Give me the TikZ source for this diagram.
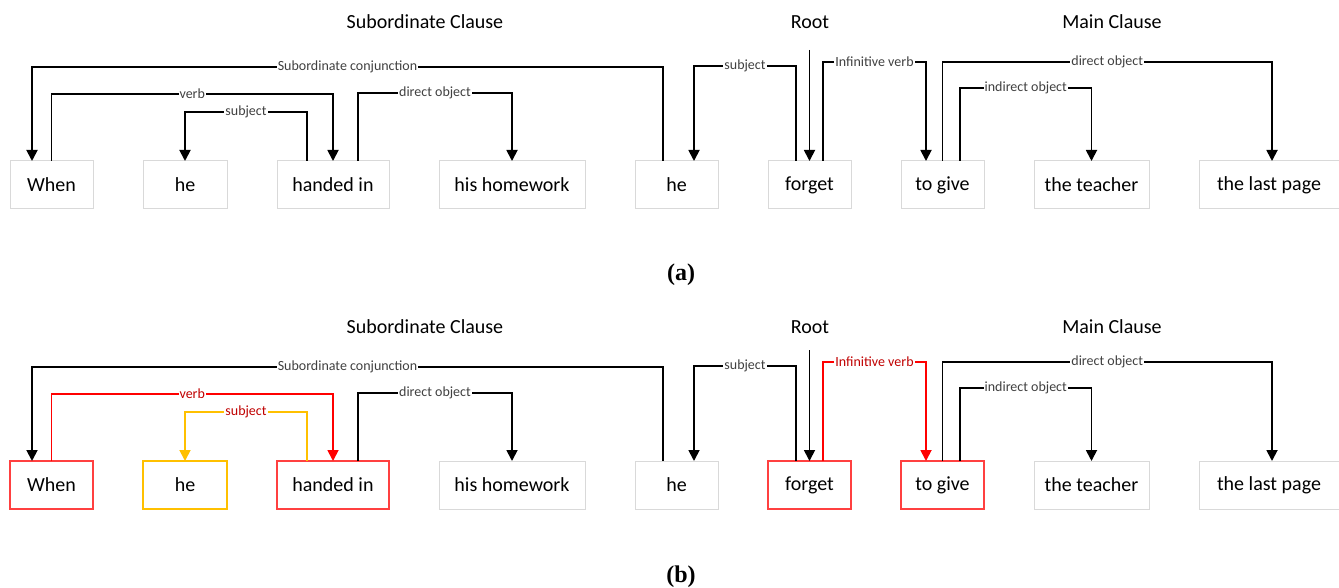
\documentclass[tikz,border=0pt]{standalone}
\usepackage{fontspec}
\setmainfont{Carlito}
\newfontfamily\capfont{Liberation Serif}
\usepackage{tikz}
\usetikzlibrary{arrows.meta,positioning}
\definecolor{boxgray}{HTML}{D9D9D9}
\definecolor{lblred}{HTML}{C00000}
\definecolor{arcyel}{HTML}{FFC000}
\definecolor{boxred}{HTML}{FF4040}

\begin{document}
\begin{tikzpicture}[x=1pt,y=-1pt,node distance=50pt,
	word/.style={draw=boxgray,line width=1pt,outer sep=0pt,minimum height=48pt,minimum width=83pt,inner sep=0pt,font=\fontsize{20}{24}\selectfont},
	redword/.style={word,draw=boxred,line width=1.3pt},
	yelword/.style={word,draw=arcyel,line width=1.3pt},
	dep/.style={line width=1.8pt,-{Triangle[width=11pt,length=11pt]}},
	lbl/.style={fill=white,inner xsep=1pt,inner ysep=0.5pt,text=black!75,font=\fontsize{14}{16}\selectfont},
	title/.style={font=\fontsize{20}{24}\selectfont},
	panel/.style={font=\capfont\bfseries\fontsize{24}{26}\selectfont}]
	\useasboundingbox (0,0) rectangle (1339,588);

	% (a)
	\node[title] (sub) at (425,22) {Subordinate Clause};
	\node[title] (rt) at (810,22) {Root};
	\node[title] (mc) at (1112,22) {Main Clause};
	\node[word] (when) at (51.5,185) {When};
	\node[word, right = of when, minimum width=84pt] (he) {he};
	\node[word, right = of he, minimum width=112pt] (hand) {handed in};
	\node[word, right = of hand, minimum width=146pt] (hw) {his homework};
	\node[word, right = of hw] (he2) {he};
	\node[word, right = of he2] (forget) {forget};
	\node[word, right = of forget] (give) {to give};
	\node[word, right = of give, minimum width=115pt] (teach) {the teacher};
	\node[word, right = of teach, minimum width=140pt] (page) {the last page};
	\coordinate (root) at ([yshift=111pt]forget.north);

	\draw[dep] ([xshift=-13.5pt]he2.north) -- ++(0,-94) -| node[lbl,pos=.25] {Subordinate conjunction} ([xshift=-19.5pt]when.north);
	\draw[dep] (when.north) -- ++(0,-67) -| node[lbl,pos=.25] {verb} (hand.north);
	\draw[dep] ([xshift=-26pt]hand.north) -- ++(0,-49) -| node[lbl,pos=.25] {subject} (he.north);
	\draw[dep] ([xshift=25pt]hand.north) -- ++(0,-68) -| node[lbl,pos=.25] {direct object} (hw.north);
	\draw[dep] ([xshift=-13.5pt]forget.north) -- ++(0,-95) -| node[lbl,pos=.25] {subject} ([xshift=17.5pt]he2.north);
	\draw[dep] (root) -- (forget.north);
	\draw[dep] ([xshift=13.5pt]forget.north) -- ++(0,-99) -| node[lbl,pos=.25] {Infinitive verb} ([xshift=-16.5pt]give.north);
	\draw[dep] (give.north) -- ++(0,-99) -| node[lbl,pos=.25] {direct object} ([xshift=3pt]page.north);
	\draw[dep] ([xshift=17.5pt]give.north) -- ++(0,-73) -| node[lbl,pos=.25] {indirect object} (teach.north);
	\node[panel] (capa) at (681,275) {(a)};

	% (b)
	\node[title] (subb) at (425,327) {Subordinate Clause};
	\node[title] (rtb) at (810,327) {Root};
	\node[title] (mcb) at (1112,327) {Main Clause};
	\node[redword] (whenb) at (51.5,485) {When};
	\node[yelword, right = of whenb, minimum width=84pt] (heb) {he};
	\node[redword, right = of heb, minimum width=112pt] (handb) {handed in};
	\node[word, right = of handb, minimum width=146pt] (hwb) {his homework};
	\node[word, right = of hwb] (he2b) {he};
	\node[redword, right = of he2b] (forgetb) {forget};
	\node[redword, right = of forgetb] (giveb) {to give};
	\node[word, right = of giveb, minimum width=115pt] (teachb) {the teacher};
	\node[word, right = of teachb, minimum width=140pt] (pageb) {the last page};
	\coordinate (rootb) at ([yshift=111pt]forgetb.north);

	\draw[dep] ([xshift=-13.5pt]he2b.north) -- ++(0,-94) -| node[lbl,pos=.25] {Subordinate conjunction} ([xshift=-19.5pt]whenb.north);
	\draw[dep, red] (whenb.north) -- ++(0,-67) -| node[lbl,pos=.25,text=lblred] {verb} (handb.north);
	\draw[dep, arcyel] ([xshift=-26pt]handb.north) -- ++(0,-49) -| node[lbl,pos=.25,text=lblred] {subject} (heb.north);
	\draw[dep] ([xshift=25pt]handb.north) -- ++(0,-68) -| node[lbl,pos=.25] {direct object} (hwb.north);
	\draw[dep] ([xshift=-13.5pt]forgetb.north) -- ++(0,-95) -| node[lbl,pos=.25] {subject} ([xshift=17.5pt]he2b.north);
	\draw[dep] (rootb) -- (forgetb.north);
	\draw[dep, red] ([xshift=13.5pt]forgetb.north) -- ++(0,-99) -| node[lbl,pos=.25,text=lblred] {Infinitive verb} ([xshift=-16.5pt]giveb.north);
	\draw[dep] (giveb.north) -- ++(0,-99) -| node[lbl,pos=.25] {direct object} ([xshift=3pt]pageb.north);
	\draw[dep] ([xshift=17.5pt]giveb.north) -- ++(0,-73) -| node[lbl,pos=.25] {indirect object} (teachb.north);
	\node[panel] (capb) at (681,577) {(b)};
\end{tikzpicture}
\end{document}
